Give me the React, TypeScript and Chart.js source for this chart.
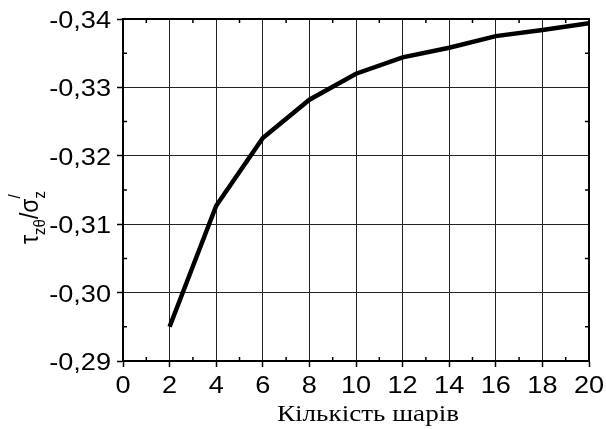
import React, { useEffect, useRef } from "react";
import { Chart, registerables } from "chart.js";

Chart.register(...registerables);

// Number of layers and the normalised shear stress for each
const layers = [2, 4, 6, 8, 10, 12, 14, 16, 18, 20];
const stressRatio = [-0.2950, -0.3127, -0.3226, -0.3282, -0.3320, -0.3344, -0.3358, -0.3375, -0.3384, -0.3394];

const xTicks = [0, 2, 4, 6, 8, 10, 12, 14, 16, 18, 20];
const yTicks = [-0.34, -0.33, -0.32, -0.31, -0.30, -0.29];
const xMinorTicks = [1, 3, 5, 7, 9, 11, 13, 15, 17, 19];
const yMinorTicks = [-0.335, -0.325, -0.315, -0.305, -0.295];

const xTitle = "Кількість шарів";

const SANS = "'Liberation Sans', Arial, sans-serif";
const SERIF = "'Liberation Serif', 'Times New Roman', serif";
// all lettering is set slightly wide
const STRETCH = 1.13;

const fmtX = (v: number) => String(v);
const fmtY = (v: number) => v.toFixed(2).replace(".", ",");

// Inward minor ticks on all four sides plus the frame around the plot
const framePlugin = {
  id: "frameAndMinorTicks",
  afterDraw(chart: any) {
    const { ctx, chartArea: a, scales } = chart;
    const xs = scales.x;
    const ys = scales.y;
    ctx.save();
    ctx.strokeStyle = "#000";
    ctx.lineWidth = 1.5;
    ctx.beginPath();
    const len = 4;
    for (const v of xMinorTicks) {
      const px = xs.getPixelForValue(v);
      ctx.moveTo(px, a.bottom);
      ctx.lineTo(px, a.bottom - len);
      ctx.moveTo(px, a.top);
      ctx.lineTo(px, a.top + len);
    }
    for (const v of yMinorTicks) {
      const py = ys.getPixelForValue(v);
      ctx.moveTo(a.left, py);
      ctx.lineTo(a.left + len, py);
      ctx.moveTo(a.right, py);
      ctx.lineTo(a.right - len, py);
    }
    ctx.stroke();
    ctx.lineWidth = 2;
    ctx.strokeRect(a.left, a.top, a.right - a.left, a.bottom - a.top);
    ctx.restore();
  },
};

// Tick labels and axis titles, set in a slightly widened face
const labelsPlugin = {
  id: "axisLettering",
  afterDraw(chart: any) {
    const { ctx, chartArea: a, scales } = chart;
    const xs = scales.x;
    const ys = scales.y;
    ctx.save();
    ctx.fillStyle = "#000";
    ctx.textBaseline = "alphabetic";

    const wide = (text: string, x: number, y: number, font: string, align: CanvasTextAlign) => {
      ctx.save();
      ctx.translate(x, y);
      ctx.scale(STRETCH, 1);
      ctx.font = font;
      ctx.textAlign = align;
      ctx.fillText(text, 0, 0);
      ctx.restore();
    };

    const tickFont = `24px ${SANS}`;
    for (const v of xTicks) {
      wide(fmtX(v), xs.getPixelForValue(v), a.bottom + 32, tickFont, "center");
    }
    for (const v of yTicks) {
      wide(fmtY(v), a.left - 12, ys.getPixelForValue(v) + 9, tickFont, "right");
    }

    wide(xTitle, 368, 421, `24px ${SERIF}`, "center");

    // rotated y title: τ_{zθ}/σ_z with a prime
    ctx.save();
    ctx.translate(38, 244);
    ctx.scale(STRETCH, 1);
    ctx.rotate(-Math.PI / 2);
    ctx.textAlign = "left";
    const big = `23px ${SANS}`;
    const small = `15px ${SANS}`;
    let x = 0;
    const put = (t: string, font: string, dy: number, advance = true) => {
      ctx.font = font;
      ctx.fillText(t, x, dy);
      const w = ctx.measureText(t).width;
      if (advance) x += w;
      return w;
    };
    put("τ", big, 0);
    put("zθ", small, 6);
    put("/", big, 0);
    put("σ", big, 0);
    put("z", small, 6, false);
    put("/", small, -16, false);
    ctx.restore();

    ctx.restore();
  },
};

export default function App() {
  const ref = useRef<HTMLCanvasElement>(null);

  useEffect(() => {
    document.body.style.margin = "0";
    const canvas = ref.current;
    if (!canvas) return;
    const chart = new Chart(canvas, {
      type: "line",
      data: {
        labels: layers,
        datasets: [
          {
            data: layers.map((l, i) => ({ x: l, y: stressRatio[i] })),
            borderColor: "#000",
            borderWidth: 4.5,
            pointRadius: 0,
            tension: 0,
            fill: false,
          },
        ],
      },
      options: {
        animation: false,
        responsive: false,
        devicePixelRatio: 1,
        layout: { padding: { left: 0, right: 17, top: 19, bottom: 0 } },
        plugins: {
          legend: { display: false },
          tooltip: { enabled: false },
        },
        scales: {
          x: {
            type: "linear",
            min: 0,
            max: 20,
            afterBuildTicks(scale: any) {
              scale.ticks = xTicks.map((v) => ({ value: v }));
            },
            afterFit(scale: any) {
              scale.height = 68;
            },
            ticks: {
              display: false,
              autoSkip: false,
              callback: (v: any) => fmtX(Number(v)),
            },
            grid: {
              color: "#222",
              lineWidth: 1,
              tickLength: 6,
              tickColor: "#000",
              tickWidth: 1.5,
            },
            border: { display: true, color: "#000", width: 2 },
          },
          y: {
            type: "linear",
            reverse: true,
            min: -0.34,
            max: -0.29,
            afterBuildTicks(scale: any) {
              scale.ticks = yTicks.map((v) => ({ value: v }));
            },
            afterFit(scale: any) {
              scale.width = 123;
            },
            ticks: {
              display: false,
              autoSkip: false,
              callback: (v: any) => fmtY(Number(v)),
            },
            grid: {
              color: "#222",
              lineWidth: 1,
              tickLength: 6,
              tickColor: "#000",
              tickWidth: 1.5,
            },
            border: { display: true, color: "#000", width: 2 },
          },
        },
      },
      plugins: [framePlugin, labelsPlugin],
    });
    return () => chart.destroy();
  }, []);

  return (
    <div style={{ width: 606, height: 429, background: "#fff" }}>
      <canvas ref={ref} width={606} height={429} />
    </div>
  );
}
